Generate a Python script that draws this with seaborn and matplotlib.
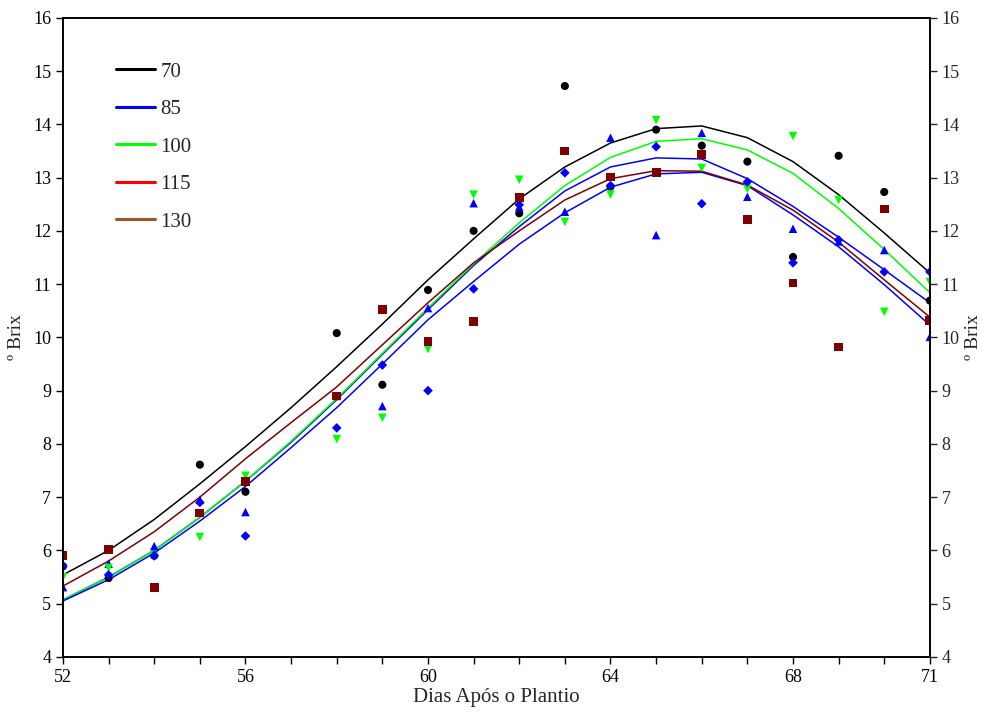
import numpy as np
import pandas as pd
import matplotlib
matplotlib.use("Agg")
import matplotlib.pyplot as plt
from matplotlib.lines import Line2D
import seaborn as sns

# observed points (days after planting, ºBrix)
days = [52, 53, 54, 55, 56, 58, 59, 60, 61, 62, 63, 64, 65, 66, 67, 68, 69, 70, 71]
obs_70 = [5.70, 5.48, 5.90, 7.61, 7.10, 10.08, 9.11, 10.89, 12.00, 12.33, 14.72, 12.83, 13.90, 13.60, 13.30, 11.51, 13.41, 12.73, 10.69]
obs_85 = [5.31, 5.75, 6.08, 6.95, 6.72, 8.90, 8.71, 10.55, 12.52, 12.45, 12.36, 13.75, 11.92, 13.84, 12.64, 12.04, 11.80, 11.64, 10.01]
obs_100 = [5.50, 5.67, 5.88, 6.25, 7.40, 8.09, 8.49, 9.78, 12.68, 12.96, 12.17, 12.68, 14.08, 13.18, 12.79, 13.78, 12.58, 10.48, 11.04]
obs_115 = [5.71, 5.54, 5.90, 6.90, 6.27, 8.30, 9.48, 9.00, 10.91, 12.49, 13.09, 12.85, 13.58, 12.51, 12.92, 11.40, 11.83, 11.23, 11.23]
obs_130 = [5.90, 6.01, 5.30, 6.70, 7.30, 8.90, 10.52, 9.92, 10.30, 12.62, 13.50, 13.01, 13.09, 13.43, 12.22, 11.02, 9.82, 12.41, 10.31]

# fitted curves, one value per day
fit_days = list(range(52, 72))
fit_70 = [5.54, 6.00, 6.58, 7.25, 7.95, 8.68, 9.45, 10.25, 11.08, 11.85, 12.60, 13.20, 13.65, 13.92, 13.97, 13.75, 13.30, 12.68, 11.96, 11.21]
fit_85 = [5.07, 5.50, 6.00, 6.62, 7.30, 8.03, 8.83, 9.68, 10.52, 11.35, 12.08, 12.75, 13.20, 13.37, 13.35, 12.98, 12.46, 11.88, 11.27, 10.65]
fit_100 = [5.07, 5.50, 6.00, 6.62, 7.30, 8.05, 8.85, 9.70, 10.55, 11.38, 12.15, 12.85, 13.38, 13.68, 13.73, 13.52, 13.08, 12.42, 11.65, 10.84]
fit_115 = [5.05, 5.45, 5.95, 6.55, 7.20, 7.93, 8.68, 9.50, 10.33, 11.05, 11.75, 12.34, 12.82, 13.07, 13.10, 12.85, 12.30, 11.70, 10.99, 10.23]
fit_130 = [5.33, 5.80, 6.35, 7.00, 7.72, 8.40, 9.07, 9.86, 10.65, 11.40, 12.00, 12.58, 12.98, 13.13, 13.12, 12.86, 12.39, 11.79, 11.08, 10.38]

labels = ["70", "85", "100", "115", "130"]
line_colors = ["black", "#0000ff", "#00ff00", "#0000ff", "#800000"]
legend_colors = ["black", "#0000ff", "#00ff00", "#ff0000", "#a0522d"]
markers = ["o", "^", "v", "D", "s"]
marker_sizes = [34, 38, 38, 24, 40]

obs = pd.DataFrame({"Dia": days * 5,
                    "Brix": obs_70 + obs_85 + obs_100 + obs_115 + obs_130,
                    "Trat": np.repeat(labels, len(days))})
fits = pd.DataFrame({"Dia": fit_days * 5,
                     "Brix": fit_70 + fit_85 + fit_100 + fit_115 + fit_130,
                     "Trat": np.repeat(labels, len(fit_days))})

sns.set_style("white")
plt.rcParams['font.family'] = ['Liberation Serif', 'DejaVu Serif']

fig = plt.figure(figsize=(9.84, 7.14), dpi=100)
ax = fig.add_axes([0.064, 0.08, 0.881, 0.895])

for lab, col in zip(labels, line_colors):
    sns.lineplot(data=fits[fits["Trat"] == lab], x="Dia", y="Brix", color=col,
                 lw=1.1, ax=ax, legend=False)
for lab, col, mk, ms in zip(labels, line_colors, markers, marker_sizes):
    sns.scatterplot(data=obs[obs["Trat"] == lab], x="Dia", y="Brix", color=col,
                    marker=mk, s=ms, edgecolor="none", ax=ax, legend=False, zorder=3)

ax.set_xlim(52, 71)
ax.set_ylim(4, 16)
ax.set_xticks([52, 56, 60, 64, 68, 71])
ax.set_xticks(range(52, 72), minor=True)
ax.set_yticks(range(4, 17))
ax.tick_params(axis="both", which="both", direction="out", length=5, width=1,
               labelsize=13, colors="black", bottom=True, left=True)
ax.set_xlabel("Dias Após o Plantio", fontsize=15, labelpad=2)
ax.set_ylabel("º Brix", fontsize=14, labelpad=6)
for sp in ax.spines.values():
    sp.set_color("black")
    sp.set_linewidth(1.2)

ax2 = ax.twinx()
ax2.set_ylim(4, 16)
ax2.set_yticks(range(4, 17))
ax2.tick_params(axis="y", direction="out", length=5, width=1, labelsize=13, right=True)
ax2.set_ylabel("º Brix", fontsize=14, labelpad=4, rotation=90)
for sp in ax2.spines.values():
    sp.set_color("black")
    sp.set_linewidth(1.2)

handles = [Line2D([0], [0], color=c, lw=2.2) for c in legend_colors]
ax.legend(handles, labels, loc="upper left", bbox_to_anchor=(0.049, 0.947), frameon=False,
          fontsize=15, handlelength=1.9, handletextpad=0.25, labelspacing=0.86, borderpad=0)

fig.savefig("out.png", dpi=100)
